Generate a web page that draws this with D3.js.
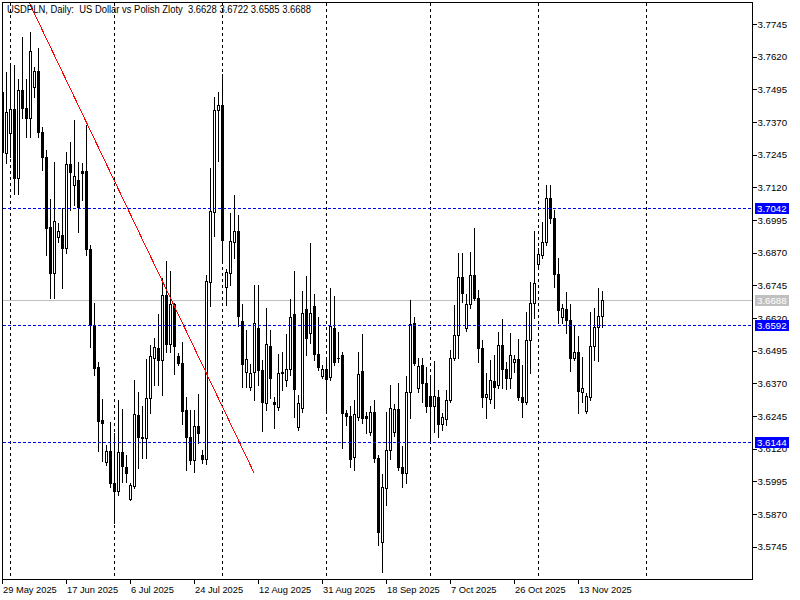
<!DOCTYPE html>
<html><head><meta charset="utf-8">
<script src="https://cdn.jsdelivr.net/npm/d3@7"></script>
<style>
body{margin:0;background:#fff}
svg{display:block}
text{font-family:"Liberation Sans",Arial,sans-serif;font-size:10px}
</style>
</head><body>
<svg id="c" width="800" height="600"></svg>
<script>
// ---- data (USDPLN daily) ----
const opens = [3.7485,3.7251,3.7328,3.7420,3.7156,3.7492,3.7424,3.7385,3.7504,3.7565,
3.7332,3.7236,3.6968,3.6792,3.6930,3.6938,3.6888,3.7209,3.7129,3.7148,
3.7183,3.7183,3.6884,3.6593,3.6433,3.6230,3.6069,3.6111,3.5989,3.5958,
3.6107,3.6050,3.5928,3.5977,3.6249,3.6165,3.6161,3.6314,3.6467,3.6505,
3.6459,3.6708,3.6521,3.6674,3.6475,3.6448,3.6268,3.6165,3.6077,3.6207,
3.6096,3.6081,3.6758,3.7026,3.7416,3.7435,3.6739,3.6792,3.6911,3.6953,
3.6609,3.6414,3.6356,3.6414,3.6582,3.6421,3.6295,3.6513,3.6299,3.6280,
3.6410,3.6383,3.6425,3.6635,3.6203,3.6276,3.6655,3.6563,3.6666,3.6482,
3.6398,3.6425,3.6394,3.6582,3.6467,3.6479,3.6257,3.6245,3.6088,3.6241,
3.6417,3.6245,3.6184,3.6261,3.6084,3.5763,3.5970,3.6115,3.6184,3.6272,
3.6050,3.6027,3.6337,3.6601,3.6352,3.6440,3.6371,3.6322,3.6283,3.6318,
3.6215,3.6234,3.6306,3.6467,3.6555,3.6777,3.6582,3.6674,3.6785,3.6697,
3.6505,3.6318,3.6310,3.6379,3.6364,3.6517,3.6425,3.6391,3.6452,3.6463,
3.6318,3.6299,3.6536,3.6678,3.6827,3.6861,3.6911,3.7079,3.7003,3.6789,
3.6624,3.6655,3.6612,3.6467,3.6490,3.6337,3.6264,3.6318,3.6513,3.6586,
3.6628];
const highs = [3.7492,3.7561,3.7588,3.7588,3.7535,3.7695,3.7535,3.7714,3.7580,3.7653,
3.7351,3.7263,3.7075,3.7217,3.6984,3.7041,3.7255,3.7294,3.7378,3.7217,
3.7213,3.7359,3.6899,3.6678,3.6452,3.6310,3.6134,3.6222,3.6180,3.6306,
3.6272,3.6096,3.5989,3.6383,3.6337,3.6283,3.6463,3.6517,3.6544,3.6635,
3.6773,3.6838,3.6800,3.6678,3.6486,3.6528,3.6318,3.6268,3.6268,3.6329,
3.6115,3.6785,3.7194,3.7466,3.7485,3.7554,3.6808,3.7022,3.7091,3.7014,
3.6674,3.6574,3.6444,3.6746,3.6746,3.6459,3.6658,3.6574,3.6318,3.6482,
3.6490,3.6559,3.6693,3.6800,3.6326,3.6723,3.6781,3.6907,3.6712,3.6624,
3.6440,3.6471,3.6735,3.6704,3.6567,3.6490,3.6268,3.6283,3.6306,3.6490,
3.6559,3.6261,3.6283,3.6306,3.6096,3.6023,3.6261,3.6364,3.6291,3.6371,
3.6130,3.6398,3.6689,3.6624,3.6467,3.6467,3.6433,3.6402,3.6456,3.6345,
3.6257,3.6345,3.6498,3.6670,3.6869,3.6869,3.6712,3.6873,3.6964,3.6727,
3.6536,3.6410,3.6459,3.6479,3.6567,3.6616,3.6452,3.6563,3.6479,3.6540,
3.6440,3.6643,3.6758,3.6953,3.6888,3.6987,3.7129,3.7129,3.7033,3.6850,
3.6674,3.6720,3.6674,3.6593,3.6551,3.6471,3.6333,3.6643,3.6658,3.6735,
3.6722];
const lows = [3.7244,3.7213,3.7236,3.7095,3.7095,3.7385,3.7313,3.7313,3.7466,3.7313,
3.7186,3.6861,3.6697,3.6697,3.6911,3.6735,3.6869,3.7033,3.7053,3.6949,
3.7072,3.6861,3.6509,3.6402,3.6111,3.6073,3.6058,3.5974,3.5836,3.5943,
3.5993,3.5993,3.5924,3.5970,3.6046,3.6084,3.6084,3.6257,3.6364,3.6364,
3.6326,3.6490,3.6490,3.6406,3.6440,3.6215,3.6039,3.6062,3.6031,3.6142,
3.6065,3.6062,3.6666,3.6934,3.7221,3.6831,3.6670,3.6746,3.6850,3.6590,
3.6356,3.6356,3.6345,3.6306,3.6364,3.6188,3.6268,3.6314,3.6199,3.6268,
3.6345,3.6360,3.6402,3.6241,3.6192,3.6261,3.6479,3.6524,3.6459,3.6421,
3.6391,3.6261,3.6383,3.6440,3.6452,3.6123,3.6211,3.6050,3.6039,3.6230,
3.6218,3.6180,3.6173,3.6069,3.5752,3.5648,3.5905,3.6081,3.6169,3.6039,
3.5974,3.5989,3.6238,3.6440,3.6337,3.6299,3.6261,3.6146,3.6184,3.6165,
3.6192,3.6211,3.6299,3.6459,3.6467,3.6681,3.6570,3.6658,3.6689,3.6452,
3.6280,3.6238,3.6295,3.6276,3.6352,3.6352,3.6349,3.6352,3.6414,3.6306,
3.6241,3.6291,3.6410,3.6620,3.6811,3.6850,3.6899,3.6984,3.6739,3.6601,
3.6601,3.6563,3.6417,3.6459,3.6257,3.6299,3.6257,3.6306,3.6459,3.6456,
3.6585];
const closes = [3.7255,3.7408,3.7420,3.7156,3.7492,3.7424,3.7385,3.7642,3.7565,3.7332,
3.7236,3.6964,3.6792,3.6991,3.6953,3.6888,3.7209,3.7179,3.7163,3.7045,
3.7175,3.6884,3.6593,3.6429,3.6226,3.6218,3.6111,3.5989,3.5958,3.6107,
3.6054,3.6027,3.5981,3.6253,3.6165,3.6161,3.6314,3.6475,3.6509,3.6459,
3.6708,3.6521,3.6674,3.6513,3.6448,3.6264,3.6165,3.6077,3.6207,3.6180,
3.6081,3.6762,3.7030,3.7416,3.7435,3.6919,3.6796,3.6915,3.6953,3.6628,
3.6444,3.6463,3.6410,3.6601,3.6421,3.6299,3.6521,3.6391,3.6291,3.6410,
3.6414,3.6425,3.6624,3.6349,3.6295,3.6639,3.6544,3.6639,3.6482,3.6433,
3.6425,3.6387,3.6590,3.6452,3.6466,3.6257,3.6245,3.6081,3.6253,3.6406,
3.6238,3.6238,3.6261,3.6084,3.5801,3.5974,3.6115,3.6276,3.6272,3.6050,
3.6027,3.6337,3.6597,3.6448,3.6436,3.6371,3.6283,3.6283,3.6322,3.6215,
3.6241,3.6306,3.6467,3.6555,3.6777,3.6716,3.6674,3.6785,3.6697,3.6505,
3.6318,3.6329,3.6383,3.6356,3.6517,3.6425,3.6391,3.6479,3.6463,3.6318,
3.6299,3.6536,3.6678,3.6754,3.6865,3.6911,3.7079,3.7003,3.6789,3.6651,
3.6658,3.6612,3.6467,3.6490,3.6341,3.6352,3.6322,3.6513,3.6586,3.6628,
3.6688];

const priceTicks = [3.5745,3.5870,3.5995,3.6120,3.6245,3.6370,3.6495,3.6620,3.6745,
                    3.6870,3.6995,3.7120,3.7245,3.7370,3.7495,3.7620,3.7745];
const dateLabels = ["29 May 2025","17 Jun 2025","6 Jul 2025","24 Jul 2025","12 Aug 2025",
                    "31 Aug 2025","18 Sep 2025","7 Oct 2025","26 Oct 2025","13 Nov 2025"];
const dateTickBars = [0,16,32,48,64,80,96,112,128,144];
const monthStartBars = [2,28,55,81,107,134,161];
const levelLines = [3.7042,3.6592,3.6144];
const bidPrice = 3.6688;
const trendBars = [6.6,62.9];
const trendPrices = [3.7829,3.6027];
const title = "USDPLN, Daily:  US Dollar vs Polish Zloty  3.6628 3.6722 3.6585 3.6688";

// ---- layout ----
const L = 2.5, R = 752.5, T = 2.5, B = 579.5;
const svg = d3.select("#c");
svg.append("rect").attr("width",800).attr("height",600).attr("fill","#fff");
svg.append("defs").append("clipPath").attr("id","clip")
  .append("rect").attr("x",L).attr("y",T).attr("width",R-L).attr("height",B-T);

const x = d3.scaleLinear().domain([0,1]).range([2.5,6.5]);
const y = d3.scaleLinear().domain([3.5745,3.7745]).range([546.7,24]);
const py = v => Math.round(y(v));

const plot = svg.append("g").attr("clip-path","url(#clip)").attr("shape-rendering","crispEdges");

// month separators (dashed)
plot.selectAll("line.grid").data(monthStartBars).join("line").attr("class","grid")
  .attr("x1",d=>x(d)).attr("x2",d=>x(d)).attr("y1",T).attr("y2",B)
  .attr("stroke","#000").attr("stroke-width",1).attr("stroke-dasharray","3,3");

// bid line
plot.append("line").attr("x1",L).attr("x2",R)
  .attr("y1",py(bidPrice)+0.5).attr("y2",py(bidPrice)+0.5)
  .attr("stroke","#c0c0c0").attr("stroke-width",1);

const bars = d3.range(opens.length).map(i=>({i,o:opens[i],h:highs[i],l:lows[i],c:closes[i]}));

// wicks
plot.selectAll("line.wick").data(bars).join("line").attr("class","wick")
  .attr("x1",d=>x(d.i)).attr("x2",d=>x(d.i))
  .attr("y1",d=>py(d.h)).attr("y2",d=>py(d.l)+1)
  .attr("stroke","#000").attr("stroke-width",1);

// bear bodies
plot.selectAll("rect.bear").data(bars.filter(d=>d.c<d.o)).join("rect").attr("class","bear")
  .attr("x",d=>x(d.i)-1.5).attr("width",3)
  .attr("y",d=>py(d.o)).attr("height",d=>Math.max(1,py(d.c)-py(d.o)+1))
  .attr("fill","#000");

// bull bodies
plot.selectAll("rect.bull").data(bars.filter(d=>d.c>=d.o)).join("rect").attr("class","bull")
  .attr("x",d=>x(d.i)-1).attr("width",2)
  .attr("y",d=>py(d.c)+0.5).attr("height",d=>Math.max(1,py(d.o)-py(d.c)))
  .attr("fill","#fff").attr("stroke","#000").attr("stroke-width",1);

// horizontal levels
plot.selectAll("line.lvl").data(levelLines).join("line").attr("class","lvl")
  .attr("x1",L).attr("x2",R).attr("y1",d=>py(d)+0.5).attr("y2",d=>py(d)+0.5)
  .attr("stroke","#0000ff").attr("stroke-width",1).attr("stroke-dasharray","3,2");

// trend line
plot.append("line")
  .attr("x1",x(trendBars[0])).attr("y1",y(trendPrices[0]))
  .attr("x2",x(trendBars[1])).attr("y2",y(trendPrices[1]))
  .attr("stroke","#ff0000").attr("stroke-width",1);

// frame
svg.append("rect").attr("x",L).attr("y",T).attr("width",R-L).attr("height",B-T)
  .attr("fill","none").attr("stroke","#000").attr("shape-rendering","crispEdges");

// price axis
const ga = svg.append("g").attr("transform",`translate(${R},0)`)
  .call(d3.axisRight(y).tickValues(priceTicks).tickFormat(d3.format(".4f")).tickSize(4).tickPadding(1));
ga.select(".domain").remove();
ga.attr("font-family",null).attr("font-size",null);
ga.selectAll("line").attr("stroke","#000").attr("shape-rendering","crispEdges");
ga.selectAll("text").attr("fill","#000").style("font-size","9.7px");

// date axis
const gx = svg.append("g").attr("transform",`translate(-0.5,${B-0.5})`)
  .call(d3.axisBottom(x).tickValues(dateTickBars).tickFormat((d,i)=>dateLabels[i]).tickSize(5).tickPadding(2));
gx.select(".domain").remove();
gx.attr("font-family",null).attr("font-size",null);
gx.selectAll("line").attr("stroke","#000").attr("shape-rendering","crispEdges");
gx.selectAll("text").attr("text-anchor","start").attr("x",0.5).attr("fill","#000")
  .style("font-size","9.3px");

// price tags
const tags = levelLines.map(v=>({v,fill:"#0000ff"})).concat([{v:bidPrice,fill:"#c0c0c0"}]);
const tg = svg.append("g");
tg.selectAll("rect").data(tags).join("rect")
  .attr("x",755).attr("width",34).attr("y",d=>py(d.v)-5).attr("height",11)
  .attr("fill",d=>d.fill).attr("shape-rendering","crispEdges");
tg.selectAll("text").data(tags).join("text")
  .attr("x",757).attr("y",d=>py(d.v)+0.5).attr("dy","0.35em")
  .attr("fill","#fff").style("font-size","9.7px").text(d=>d3.format(".4f")(d.v));

// title
svg.append("text").attr("x",7).attr("y",13).style("white-space","pre").attr("fill","#000")
  .attr("textLength",304).attr("lengthAdjust","spacingAndGlyphs").text(title);
</script>
</body></html>
